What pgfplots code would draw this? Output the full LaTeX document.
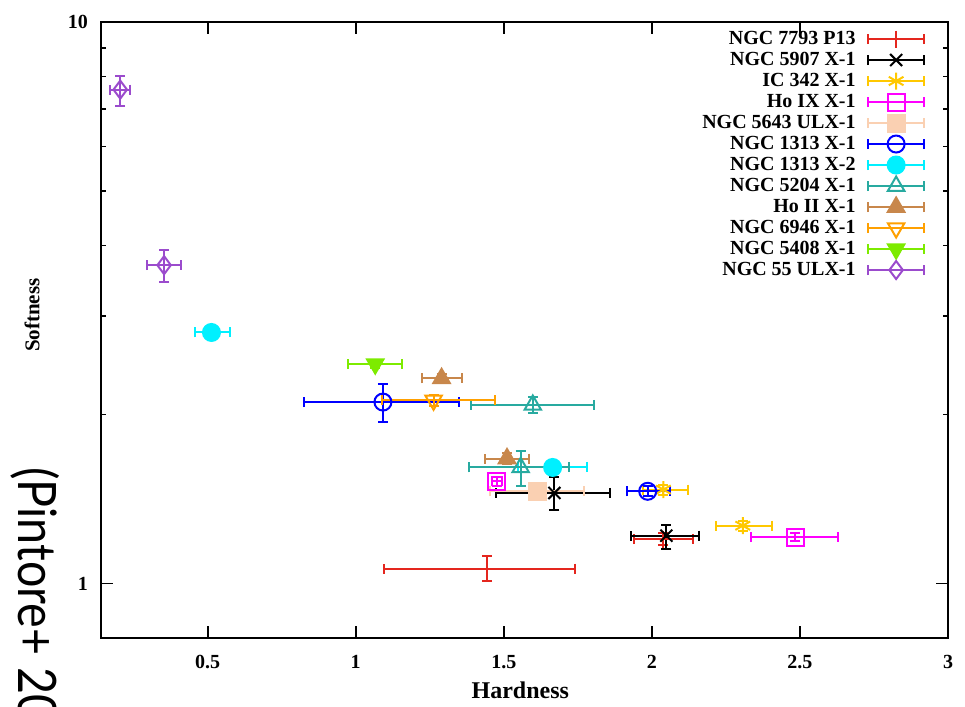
\documentclass[border=0pt]{standalone}
\usepackage{pgfplots}
\pgfplotsset{compat=1.18}
\usepackage{fontspec}
\setmainfont{Liberation Serif}
\newfontfamily\lato{Lato}

\definecolor{cP13}{RGB}{228,38,30}
\definecolor{cBlk}{RGB}{0,0,0}
\definecolor{cIC}{RGB}{255,200,0}
\definecolor{cHoIX}{RGB}{255,0,255}
\definecolor{cPeach}{RGB}{250,208,178}
\definecolor{cBlue}{RGB}{0,0,255}
\definecolor{cCyan}{RGB}{0,240,255}
\definecolor{cTeal}{RGB}{40,170,160}
\definecolor{cHoII}{RGB}{200,135,75}
\definecolor{cOrange}{RGB}{255,160,0}
\definecolor{cGreen}{RGB}{125,235,0}
\definecolor{cPurple}{RGB}{155,75,205}

\pgfplotsset{
  eb/.style={only marks, line width=1pt, mark size=4.25pt,
    mark options={solid, line width=1pt},
    error bars/x dir=both, error bars/x explicit,
    error bars/y dir=both, error bars/y explicit,
    error bars/error bar style={line width=1pt, solid},
    error bars/error mark options={rotate=90, mark size=2.5pt, line width=1pt, solid}},
}

\begin{document}
\begin{tikzpicture}
\begin{axis}[
  at={(0,0)}, anchor=south west,
  scale only axis, width=423.5pt, height=308pt,
  xmin=0.14, xmax=3, ymin=0.8, ymax=10, ymode=log,
  xtick={0.5,1,1.5,2,2.5,3},
  xticklabels={0.5,1,1.5,2,2.5,3},
  ytick={1,10}, yticklabels={1,10},
  axis line style={line width=1.2pt},
  tick style={line width=0.9pt, black},
  major tick length=6pt, minor tick length=2.5pt,
  tick align=inside,
  /pgf/number format/assume math mode=true,
  ticklabel style={font=\bfseries\fontsize{10}{10}\selectfont},
  xticklabel style={yshift=-5pt},
  yticklabel style={xshift=-3pt},
  xlabel={Hardness}, ylabel={Softness},
  xlabel style={font=\bfseries\fontsize{12}{12}\selectfont, at={(axis description cs:0.495,-0.0844)}, anchor=center},
  ylabel style={font=\bfseries\fontsize{10.5}{10.5}\selectfont, at={(axis description cs:-0.0815,0.524)}, anchor=center},
  legend plot pos=right, legend cell align=right,
  legend style={at={(rel axis cs:0.973,0.9894)}, anchor=north east, draw=none, fill=none,
    inner sep=0pt, outer sep=0pt, font=\bfseries\fontsize{10}{10}\selectfont,
    nodes={text height=7pt, text depth=2pt, inner sep=0.75pt}, column sep=5pt, row sep=0pt},
  legend image code/.code={
    \draw[#1, mark=none, solid] (0pt,0pt) -- (28pt,0pt) (0pt,-2.5pt) -- (0pt,2.5pt) (28pt,-2.5pt) -- (28pt,2.5pt);
    \draw[#1, only marks] plot coordinates {(14pt,0pt)};
  },
]
\addplot[color=cP13, mark=+, eb] table[x=x, y=y, x error minus=xm, x error plus=xp, y error minus=ym, y error plus=yp] {
x y xm xp ym yp
1.444 1.063 0.348 0.298 0.051 0.058
2.039 1.200 0.100 0.100 0.030 0.030
};
\addlegendentry{NGC 7793 P13}
\addplot[color=cBlk, mark=x, eb] table[x=x, y=y, x error minus=xm, x error plus=xp, y error minus=ym, y error plus=yp] {
x y xm xp ym yp
2.049 1.217 0.120 0.111 0.063 0.056
1.671 1.450 0.197 0.188 0.100 0.100
};
\addlegendentry{NGC 5907 X-1}
\addplot[color=cIC, mark=asterisk, eb] table[x=x, y=y, x error minus=xm, x error plus=xp, y error minus=ym, y error plus=yp] {
x y xm xp ym yp
2.307 1.268 0.090 0.100 0.025 0.025
2.039 1.470 0.070 0.084 0.030 0.030
};
\addlegendentry{IC 342 X-1}
\addplot[color=cHoIX, mark=square, eb] table[x=x, y=y, x error minus=xm, x error plus=xp, y error minus=ym, y error plus=yp] {
x y xm xp ym yp
2.485 1.210 0.151 0.143 0.020 0.020
1.477 1.520 0.018 0.018 0.030 0.030
};
\addlegendentry{Ho IX X-1}
\addplot[color=cPeach, mark=square*, eb] table[x=x, y=y, x error minus=xm, x error plus=xp, y error minus=ym, y error plus=yp] {
x y xm xp ym yp
1.614 1.460 0.161 0.158 0.020 0.020
};
\addlegendentry{NGC 5643 ULX-1}
\addplot[color=cBlue, mark=o, eb] table[x=x, y=y, x error minus=xm, x error plus=xp, y error minus=ym, y error plus=yp] {
x y xm xp ym yp
1.092 2.105 0.267 0.258 0.165 0.165
1.986 1.460 0.070 0.074 0.030 0.030
};
\addlegendentry{NGC 1313 X-1}
\addplot[color=cCyan, mark=*, eb] table[x=x, y=y, x error minus=xm, x error plus=xp, y error minus=ym, y error plus=yp] {
x y xm xp ym yp
0.513 2.800 0.057 0.061 0.050 0.050
1.665 1.610 0.118 0.117 0.030 0.030
};
\addlegendentry{NGC 1313 X-2}
\addplot[color=cTeal, mark=triangle, eb, mark size=4.75pt] table[x=x, y=y, x error minus=xm, x error plus=xp, y error minus=ym, y error plus=yp] {
x y xm xp ym yp
1.598 2.080 0.208 0.207 0.070 0.070
1.557 1.610 0.174 0.164 0.120 0.110
};
\addlegendentry{NGC 5204 X-1}
\addplot[color=cHoII, mark=triangle*, eb, mark size=4.75pt] table[x=x, y=y, x error minus=xm, x error plus=xp, y error minus=ym, y error plus=yp] {
x y xm xp ym yp
1.290 2.320 0.067 0.070 0.040 0.040
1.511 1.670 0.074 0.073 0.040 0.040
};
\addlegendentry{Ho II X-1}
\addplot[color=cOrange, mark=triangle, eb, mark size=4.75pt, mark options={rotate=180}] table[x=x, y=y, x error minus=xm, x error plus=xp, y error minus=ym, y error plus=yp] {
x y xm xp ym yp
1.263 2.120 0.174 0.208 0.050 0.050
};
\addlegendentry{NGC 6946 X-1}
\addplot[color=cGreen, mark=triangle*, eb, mark size=4.75pt, mark options={rotate=180}] table[x=x, y=y, x error minus=xm, x error plus=xp, y error minus=ym, y error plus=yp] {
x y xm xp ym yp
1.066 2.460 0.093 0.091 0.040 0.040
};
\addlegendentry{NGC 5408 X-1}
\addplot[color=cPurple, mark=diamond, eb, mark size=4.5pt] table[x=x, y=y, x error minus=xm, x error plus=xp, y error minus=ym, y error plus=yp] {
x y xm xp ym yp
0.205 7.580 0.033 0.034 0.490 0.420
0.353 3.690 0.057 0.057 0.240 0.230
};
\addlegendentry{NGC 55 ULX-1}
\end{axis}
\node[font=\lato\fontsize{26.5}{26.5}\selectfont, rotate=-90, xscale=0.88, anchor=base west, inner sep=0pt] at (-41pt,85.5pt) {(Pintore+ 2017)};
\pgfresetboundingbox
\path[use as bounding box] (-50.5pt,-34.5pt) rectangle (432pt,319pt);
\end{tikzpicture}
\end{document}
